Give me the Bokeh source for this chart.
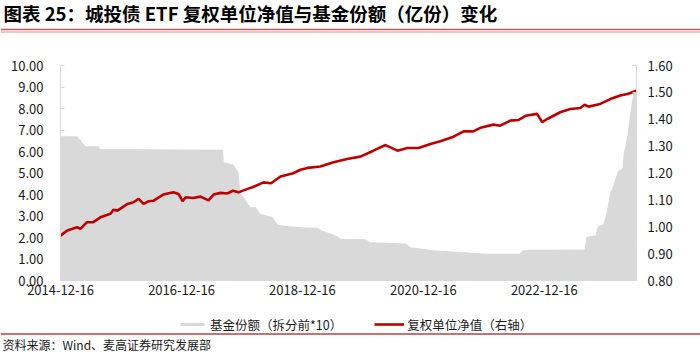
import pandas as pd
from bokeh.plotting import figure
from bokeh.layouts import column
from bokeh.core.properties import value
from bokeh.models import (ColumnDataSource, Range1d, LinearAxis, FixedTicker,
                          PrintfTickFormatter, DatetimeTickFormatter, Legend,
                          LegendItem, Span)
from bokeh.embed import file_html
from bokeh.resources import INLINE

TITLE = "图表 25：城投债 ETF 复权单位净值与基金份额（亿份）变化"
SOURCE = "资料来源：Wind、麦高证券研究发展部"
SHARE_LABEL = "基金份额（拆分前*10）"
NAV_LABEL = "复权单位净值（右轴）"

share_dates = ["2014-12-16", "2015-03-27", "2015-05-03", "2015-05-15", "2015-08-02",
               "2015-08-14", "2017-08-24", "2017-08-28", "2017-10-25", "2017-11-25",
               "2017-12-07", "2017-12-25", "2018-02-06", "2018-03-08", "2018-04-06",
               "2018-06-19", "2018-07-19", "2018-08-16", "2018-12-04", "2019-03-16",
               "2019-04-16", "2019-06-03", "2019-07-16", "2019-08-03", "2019-12-31",
               "2020-01-31", "2020-08-31", "2020-09-28", "2020-12-28", "2021-02-28",
               "2021-07-28", "2022-01-07", "2022-07-19", "2022-08-07", "2022-09-07",
               "2023-08-16", "2023-08-28", "2023-10-22", "2023-11-01", "2023-11-13",
               "2023-12-07", "2023-12-19", "2024-01-01", "2024-01-19", "2024-01-31",
               "2024-02-19", "2024-03-08", "2024-04-01", "2024-04-07", "2024-05-01",
               "2024-05-19", "2024-06-07", "2024-06-25"]
share_values = [6.71, 6.71, 6.36, 6.25, 6.25,
                6.12, 6.08, 5.50, 5.40, 5.04,
                4.03, 3.87, 3.41, 3.41, 3.10,
                2.95, 2.60, 2.56, 2.48, 2.45,
                2.30, 2.20, 2.05, 1.94, 1.92,
                1.78, 1.72, 1.55, 1.45, 1.40,
                1.33, 1.25, 1.24, 1.40, 1.43,
                1.44, 2.02, 2.09, 2.45, 2.56,
                2.60, 2.88, 3.35, 4.10, 4.28,
                4.74, 5.12, 5.20, 5.80, 6.74,
                7.83, 8.76, 9.00]

nav_dates = ["2014-12-16", "2015-01-26", "2015-03-26", "2015-04-15", "2015-05-25",
             "2015-07-02", "2015-08-14", "2015-10-14", "2015-11-01", "2015-11-25",
             "2016-01-25", "2016-03-01", "2016-04-01", "2016-05-01", "2016-06-01",
             "2016-07-01", "2016-08-28", "2016-10-28", "2016-11-28", "2016-12-22",
             "2017-01-10", "2017-02-22", "2017-04-10", "2017-05-28", "2017-06-28",
             "2017-08-08", "2017-09-20", "2017-10-22", "2017-11-25", "2018-01-19",
             "2018-02-25", "2018-04-25", "2018-06-10", "2018-08-06", "2018-10-22",
             "2018-12-04", "2019-01-16", "2019-04-03", "2019-06-22", "2019-09-12",
             "2019-12-01", "2020-02-18", "2020-05-01", "2020-07-12", "2020-09-10",
             "2020-11-16", "2021-01-28", "2021-03-28", "2021-06-16", "2021-08-16",
             "2021-10-13", "2021-11-25", "2022-02-12", "2022-03-25", "2022-05-25",
             "2022-07-12", "2022-08-25", "2022-11-03", "2022-12-03", "2023-01-03",
             "2023-03-22", "2023-05-22", "2023-07-22", "2023-08-16", "2023-09-10",
             "2023-11-19", "2024-01-19", "2024-03-19", "2024-05-01", "2024-06-25"]
nav_values = [0.967, 0.986, 0.998, 0.992, 1.017,
              1.017, 1.035, 1.048, 1.063, 1.060,
              1.085, 1.091, 1.104, 1.085, 1.095,
              1.097, 1.120, 1.128, 1.122, 1.095,
              1.110, 1.107, 1.112, 1.098, 1.120,
              1.126, 1.124, 1.134, 1.128, 1.141,
              1.149, 1.165, 1.162, 1.187, 1.199,
              1.212, 1.219, 1.224, 1.240, 1.252,
              1.261, 1.283, 1.304, 1.283, 1.293,
              1.293, 1.308, 1.318, 1.335, 1.355,
              1.355, 1.368, 1.380, 1.376, 1.395,
              1.397, 1.413, 1.420, 1.389, 1.401,
              1.426, 1.438, 1.442, 1.454, 1.447,
              1.457, 1.475, 1.488, 1.494, 1.506]

x_tick_labels = ["2014-12-16", "2016-12-16", "2018-12-16", "2020-12-16", "2022-12-16"]
left_ticks = [0, 1, 2, 3, 4, 5, 6, 7, 8, 9, 10]
right_ticks = [0.8, 0.9, 1.0, 1.1, 1.2, 1.3, 1.4, 1.5, 1.6]


def to_ms(strings):
    d = pd.to_datetime(pd.Series(strings))
    return list((d - pd.Timestamp("1970-01-01")) // pd.Timedelta(milliseconds=1))


def no_align(fig):
    try:
        fig.frame_align = False
    except Exception:
        pass


FONT = "Noto Sans CJK SC"
TXT = "#1a1a1a"
GRAY = "#D9D9D9"
RED = "#C00000"
W = 700

share_src = ColumnDataSource(dict(date=pd.to_datetime(pd.Series(share_dates)), share=share_values))
nav_src = ColumnDataSource(dict(date=pd.to_datetime(pd.Series(nav_dates)), nav=nav_values))
x_ms = to_ms([share_dates[0], share_dates[-1]])

# ---------------- header ----------------
hdr = figure(width=W, height=48, output_backend="svg", toolbar_location=None,
             x_range=Range1d(0, W), y_range=Range1d(48, 0),
             x_axis_location=None, y_axis_location=None, min_border=0)
hdr.grid.visible = False
hdr.outline_line_color = None
hdr.text(x=[3], y=[12], text=[TITLE], text_font=value(FONT), text_font_style="bold",
         text_font_size="18.5px", text_color="#000000", text_baseline="middle")
hdr.add_layout(Span(location=29, dimension="width", line_color="#C65A57", line_width=1.6))
hdr.add_layout(Span(location=31.5, dimension="width", line_color="#D98C8A", line_width=1))
no_align(hdr)

# ---------------- main chart ----------------
p = figure(width=W, height=256, x_axis_type="datetime", output_backend="svg",
           toolbar_location=None, min_border_left=60, min_border_right=64,
           min_border_top=17, min_border_bottom=24,
           x_range=Range1d(x_ms[0], x_ms[1]), y_range=Range1d(0, 10))
p.extra_y_ranges = {"right": Range1d(0.8, 1.6)}
p.xgrid.visible = False
p.ygrid.visible = False
p.outline_line_color = None
no_align(p)

area = p.varea(x="date", y1=0, y2="share", source=share_src, fill_color=GRAY)
line = p.line(x="date", y="nav", source=nav_src, y_range_name="right",
              line_color=RED, line_width=2.6)

xa = p.xaxis[0]
xa.ticker = FixedTicker(ticks=to_ms(x_tick_labels))
xa.formatter = DatetimeTickFormatter(days="%Y-%m-%d", months="%Y-%m-%d", years="%Y-%m-%d")
xa.axis_line_color = GRAY
xa.major_tick_line_color = None
xa.minor_tick_line_color = None
xa.major_tick_out = 0
xa.major_tick_in = 0
xa.major_label_standoff = 4
xa.major_label_text_font = FONT
xa.major_label_text_font_size = "13px"
xa.major_label_text_color = TXT

ya = p.yaxis[0]
ya.ticker = FixedTicker(ticks=left_ticks)
ya.formatter = PrintfTickFormatter(format="%.2f")
ra = LinearAxis(y_range_name="right", ticker=FixedTicker(ticks=right_ticks),
                formatter=PrintfTickFormatter(format="%.2f"))
p.add_layout(ra, "right")
for ax, st in ((ya, 17), (ra, 11)):
    ax.axis_line_color = GRAY
    ax.major_tick_line_color = GRAY
    ax.major_tick_in = 4
    ax.major_tick_out = 0
    ax.minor_tick_line_color = None
    ax.major_label_standoff = st
    ax.major_label_text_font = FONT
    ax.major_label_text_font_size = "13px"
    ax.major_label_text_color = TXT

# ---------------- footer (legend + source) ----------------
ftr = figure(width=W, height=48, output_backend="svg", toolbar_location=None,
             x_range=Range1d(0, W), y_range=Range1d(48, 0),
             x_axis_location=None, y_axis_location=None, min_border=0)
ftr.grid.visible = False
ftr.outline_line_color = None
no_align(ftr)

# legend keys share the chart's sources; their data lies outside this strip's range
key_area = ftr.varea(x="date", y1=0, y2="share", source=share_src, fill_color=GRAY)
key_line = ftr.line(x="date", y="nav", source=nav_src, line_color=RED, line_width=2.6)
legend = Legend(items=[LegendItem(label=SHARE_LABEL, renderers=[key_area]),
                       LegendItem(label=NAV_LABEL, renderers=[key_line])],
                orientation="horizontal", location=(177, 18.5),
                border_line_color=None, background_fill_alpha=0,
                label_text_font=FONT, label_text_font_size="12.5px", label_text_color=TXT,
                glyph_width=30, glyph_height=4, label_height=16, label_standoff=3,
                spacing=32, padding=0, margin=0)
ftr.add_layout(legend)

ftr.add_layout(Span(location=29.5, dimension="width", line_color="#B8433F", line_width=1.5))
ftr.text(x=[2], y=[39.5], text=[SOURCE], text_font=value(FONT), text_font_size="12px",
         text_color=TXT, text_baseline="middle")

layout = column(hdr, p, ftr, spacing=0)
open("out.html", "w").write(file_html(layout, INLINE))
